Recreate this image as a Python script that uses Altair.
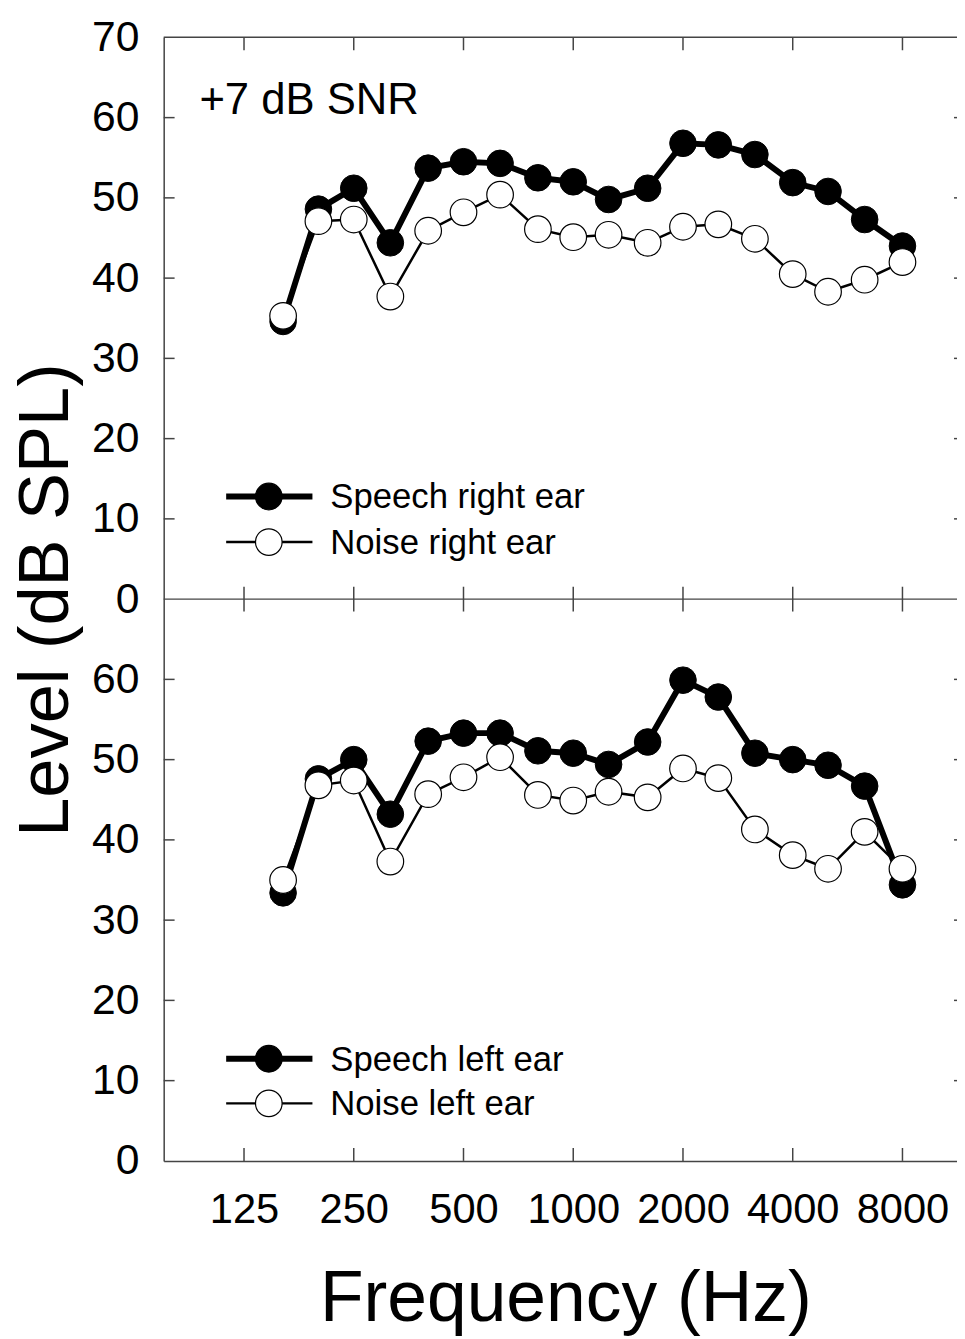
import altair as alt
import pandas as pd

# ---------------- data ----------------
freqs = [160, 200, 250, 315, 400, 500, 630, 800, 1000, 1250, 1600,
         2000, 2500, 3150, 4000, 5000, 6300, 8000]
speech_right = [34.6, 48.6, 51.2, 44.4, 53.7, 54.5, 54.3, 52.5, 52.0, 49.8, 51.2,
                56.8, 56.6, 55.4, 51.9, 50.8, 47.3, 44.0]
noise_right = [35.3, 47.1, 47.3, 37.7, 45.9, 48.2, 50.4, 46.1, 45.1, 45.4, 44.4,
               46.4, 46.7, 44.9, 40.5, 38.3, 39.8, 42.0]
speech_left = [33.4, 47.6, 50.0, 43.2, 52.3, 53.3, 53.3, 51.1, 50.8, 49.4, 52.2,
               59.9, 57.8, 50.8, 50.0, 49.3, 46.7, 34.4]
noise_left = [35.0, 46.8, 47.4, 37.3, 45.7, 47.8, 50.3, 45.6, 44.9, 46.0, 45.3,
              48.9, 47.7, 41.3, 38.1, 36.4, 41.0, 36.4]

x_tick_values = [125, 250, 500, 1000, 2000, 4000, 8000]
y_label_values = [0, 10, 20, 30, 40, 50, 60, 70, 80, 90, 100, 110, 120, 130, 140]
y_tick_values = [10, 20, 30, 40, 50, 60, 80, 90, 100, 110, 120, 130]
panel_offset = 70          # upper panel is stacked on top of the lower one
border_values = [70, 140]  # divider and top frame line
legend_labels = ["Speech right ear", "Noise right ear", "Speech left ear", "Noise left ear"]
annotation = "+7 dB SNR"

# ---------------- layout / style ----------------
W, H = 800, 1133
FONT = "Liberation Sans, Arial, sans-serif"
XFONT = "Liberation Sans Narrow, Arial Narrow, Liberation Sans, Arial, sans-serif"
AXC = "#444444"
MSIZE = 720

rows = []
for panel, s, n in [("right", speech_right, noise_right), ("left", speech_left, noise_left)]:
    for f, sv, nv in zip(freqs, s, n):
        rows.append(dict(freq=f, level=sv, series="Speech", panel=panel))
        rows.append(dict(freq=f, level=nv, series="Noise", panel=panel))
df = pd.DataFrame(rows)

xscale = alt.Scale(type="log", domain=[75.26, 11290], nice=False)
yscale = alt.Scale(domain=[0, 140], nice=False, zero=False)

xaxis = alt.Axis(values=x_tick_values, format="d", ticks=False, grid=False,
                 labelFont=XFONT, labelFontSize=42, labelPadding=29, labelColor="black",
                 labelFlush=False, labelOverlap=False,
                 domainColor=AXC, domainWidth=1.5,
                 title="Frequency (Hz)", titleFont=FONT, titleFontSize=72,
                 titleFontWeight="normal", titleColor="black",
                 titleX=405, titleY=161, titleBaseline="alphabetic", titleAlign="center")
yaxis = alt.Axis(values=y_label_values,
                 labelExpr="datum.value >= 70 ? '' + (datum.value - 70) : '' + datum.value",
                 ticks=False, grid=False,
                 labelFont=FONT, labelFontSize=43, labelPadding=25, labelColor="black",
                 labelFlush=False, labelOverlap=False,
                 domainColor=AXC, domainWidth=1.5,
                 title="Level (dB SPL)", titleFont=FONT, titleFontSize=71,
                 titleFontWeight="normal", titleColor="black",
                 titleAngle=270, titleX=-97, titleY=567,
                 titleBaseline="alphabetic", titleAlign="center")

X = alt.X("freq:Q", scale=xscale, axis=xaxis)
Y = alt.Y("yv:Q", scale=yscale, axis=yaxis)

base = alt.Chart(df).transform_calculate(
    yv=f"datum.panel == 'right' ? datum.level + {panel_offset} : datum.level"
)

speech_line = base.transform_filter("datum.series == 'Speech'").mark_line(
    color="black", strokeWidth=6).encode(x=X, y=Y, detail="panel:N")
speech_pts = base.transform_filter("datum.series == 'Speech'").mark_point(
    shape="circle", filled=True, size=MSIZE, fill="black", stroke="black",
    strokeWidth=1, opacity=1).encode(x=X, y=Y)
noise_line = base.transform_filter("datum.series == 'Noise'").mark_line(
    color="black", strokeWidth=2.5).encode(x=X, y=Y, detail="panel:N")
noise_pts = base.transform_filter("datum.series == 'Noise'").mark_point(
    shape="circle", filled=True, size=MSIZE, fill="white", stroke="black",
    strokeWidth=1.2, opacity=1).encode(x=X, y=Y)

# frame lines (top border and panel divider)
borders = alt.Chart(pd.DataFrame({"yv": border_values})).mark_rule(
    color=AXC, strokeWidth=1.5).encode(y=Y)

# inward x ticks
xt = pd.DataFrame({"freq": x_tick_values})
mid = H * (1 - panel_offset / 140)
xt_top = alt.Chart(xt).mark_rule(color=AXC, strokeWidth=1.5).encode(
    x=X, y=alt.value(0), y2=alt.value(13))
xt_mid = alt.Chart(xt).mark_rule(color=AXC, strokeWidth=1.5).encode(
    x=X, y=alt.value(mid - 12.5), y2=alt.value(mid + 12.5))
xt_bot = alt.Chart(xt).mark_rule(color=AXC, strokeWidth=1.5).encode(
    x=X, y=alt.value(H - 13), y2=alt.value(H))

# inward y ticks
yt = pd.DataFrame({"yv": y_tick_values})
yt_left = alt.Chart(yt).mark_rule(color=AXC, strokeWidth=1.5).encode(
    y=Y, x=alt.value(0), x2=alt.value(11))
yt_right = alt.Chart(yt).mark_rule(color=AXC, strokeWidth=1.5).encode(
    y=Y, x=alt.value(W - 3), x2=alt.value(W))

# legends
legend_layers = []
legend_rows = [
    (legend_labels[0], 463, "black", 6),
    (legend_labels[1], 509, "white", 2.5),
    (legend_labels[2], 1030, "black", 6),
    (legend_labels[3], 1075, "white", 2.5),
]
for label, ly, fill, sw in legend_rows:
    one = alt.Chart(pd.DataFrame({"label": [label]}))
    legend_layers.append(one.mark_rule(color="black", strokeWidth=sw).encode(
        x=alt.value(63), x2=alt.value(150), y=alt.value(ly)))
    legend_layers.append(one.mark_point(shape="circle", filled=True, size=MSIZE, fill=fill,
                                        stroke="black", strokeWidth=1.2, opacity=1).encode(
        x=alt.value(106), y=alt.value(ly)))
    legend_layers.append(one.mark_text(align="left", baseline="middle", font=FONT,
                                       fontSize=35, color="black").encode(
        x=alt.value(168), y=alt.value(ly + 1), text="label:N"))

snr = alt.Chart(pd.DataFrame({"t": [annotation]})).mark_text(
    align="left", baseline="alphabetic", font=FONT, fontSize=44, color="black").encode(
    x=alt.value(36), y=alt.value(77), text="t:N")

chart = alt.layer(
    borders, xt_top, xt_mid, xt_bot, yt_left, yt_right,
    speech_line, speech_pts, noise_line, noise_pts,
    *legend_layers, snr
).properties(
    width=W, height=H,
    autosize=alt.AutoSizeParams(type="none"),
    padding={"left": 157, "top": 24, "right": 0, "bottom": 174},
    background="white",
).configure_view(stroke=None)

chart.save("out.html", embed_options={"renderer": "svg", "actions": False})
